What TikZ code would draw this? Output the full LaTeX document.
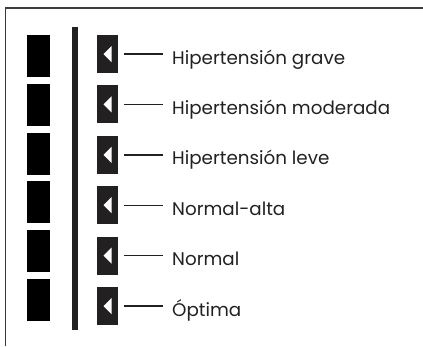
\documentclass[tikz,border=0pt]{standalone}
\usepackage{fontspec}
\setmainfont{Poppins}
\usetikzlibrary{positioning,calc}
\definecolor{tDark}{RGB}{34,32,33}
\definecolor{tFrame}{RGB}{60,60,60}
\tikzset{
    bigbar/.style={fill=black, minimum width=23pt, minimum height=42pt, inner sep=0pt},
    markbox/.style={fill=tDark, minimum width=21pt, minimum height=38pt, inner sep=0pt},
    levellabel/.style={anchor=base west, inner sep=0pt, text=tDark, font=\fontsize{18.3}{20}\selectfont},
    tick/.style={draw=tDark, line width=1.4pt}
}

\begin{document}
\begin{tikzpicture}[x=1pt, y=-1pt]
    \useasboundingbox (0,0) rectangle (423,346);
    % frame
    \draw[tFrame, line width=1.5pt] (5.5,346) -- (5.5,8) -- (423,8);
    % scale
    \fill[tDark] (72,27) rectangle (78,330);

    \foreach \i/\txt in {0/Hipertensión grave, 1/Hipertensión moderada, 2/Hipertensión leve, 3/Normal-alta, 4/Normal, 5/Óptima} {
        \node[bigbar] (bar\i) at (38.5, {56+48.8*\i}) {};
        \node[markbox] (mk\i) at (107.5, {54+50.4*\i}) {};
        \fill[white] ($(mk\i.center)+(-4,0)$) -- ++(8,8) -- ++(0,-16) -- cycle;
        \node[levellabel] (lb\i) at (172, {64+50.4*\i}) {\txt};
        \path (lb\i.west |- mk\i.east) coordinate (le\i);
        \draw[tick] ([xshift=6pt]mk\i.east) -- ([xshift=-9pt]le\i);
    }
\end{tikzpicture}
\end{document}
